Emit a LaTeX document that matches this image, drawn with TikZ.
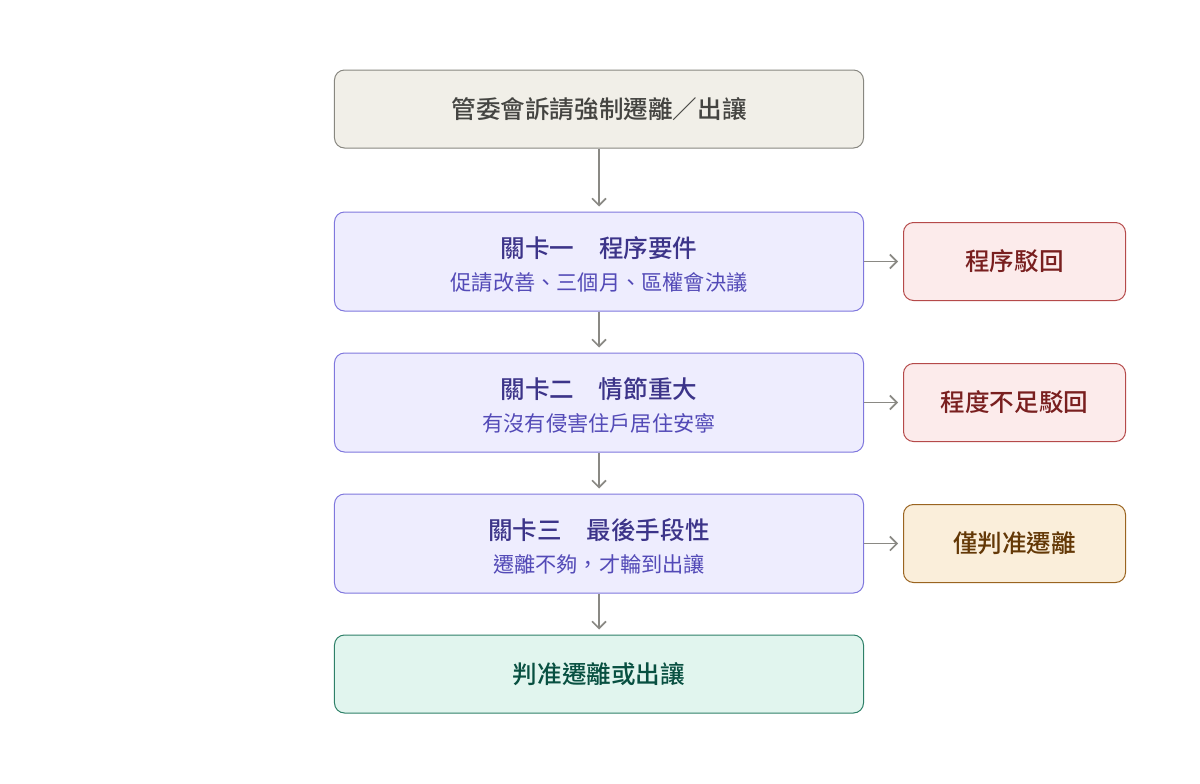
\documentclass[tikz,border=0pt]{standalone}
\usepackage{fontspec}
\setmainfont{Noto Sans CJK TC}[BoldFont={Noto Sans CJK TC Medium}]
\usetikzlibrary{matrix,arrows.meta}

\definecolor{startfill}{HTML}{F1EFE8}
\definecolor{startline}{HTML}{888780}
\definecolor{starttext}{HTML}{444441}
\definecolor{gatefill}{HTML}{EEEDFE}
\definecolor{gateline}{HTML}{7F77DD}
\definecolor{gatetext}{HTML}{3C3489}
\definecolor{gatesub}{HTML}{534AB7}
\definecolor{rejfill}{HTML}{FCEBEB}
\definecolor{rejline}{HTML}{B54A4A}
\definecolor{rejtext}{HTML}{791F1F}
\definecolor{partfill}{HTML}{FAEEDA}
\definecolor{partline}{HTML}{9A6420}
\definecolor{parttext}{HTML}{633806}
\definecolor{endfill}{HTML}{E1F5EE}
\definecolor{endline}{HTML}{2E8068}
\definecolor{endtext}{HTML}{085041}
\definecolor{arrowgray}{HTML}{8A8984}

\tikzset{
  box/.style={draw, rounded corners=10pt, line width=1pt, inner sep=0pt, align=center,
    minimum width=529pt, minimum height=78pt, font=\bfseries\fontsize{24.6}{28}\selectfont},
  startbox/.style={box, fill=startfill, draw=startline, text=starttext},
  gatebox/.style={box, minimum height=99pt, fill=gatefill, draw=gateline, text=gatetext},
  rejectbox/.style={box, minimum width=222pt, fill=rejfill, draw=rejline, text=rejtext},
  partbox/.style={box, minimum width=222pt, fill=partfill, draw=partline, text=parttext},
  endbox/.style={box, fill=endfill, draw=endline, text=endtext},
  arr/.style={draw=arrowgray, line width=1.6pt, -{Straight Barb[length=7pt,width=14pt]}, shorten >=5pt}
}
\newcommand{\gatelines}[2]{\raisebox{-6pt}[\height][\depth]{\begin{tabular}{@{}c@{}}#1\\[5pt]{\mdseries\color{gatesub}\fontsize{21.2}{25}\selectfont #2}\end{tabular}}}

\begin{document}
\begin{tikzpicture}
  \useasboundingbox (0,0) rectangle (1200pt,-784pt);
  \matrix (m) [matrix of nodes, row sep=41pt, column sep=39pt, inner sep=0pt,
    nodes={anchor=center}] at (730pt,-391.5pt)
  {
    |[startbox]| 管委會訴請強制遷離／出讓& \\[22pt]
    |[gatebox]| \gatelines{關卡一\quad 程序要件}{促請改善、三個月、區權會決議}& |[rejectbox]| 程序駁回\\
    |[gatebox]| \gatelines{關卡二\quad 情節重大}{有沒有侵害住戶居住安寧}& |[rejectbox]| 程度不足駁回\\
    |[gatebox]| \gatelines{關卡三\quad 最後手段性}{遷離不夠，才輪到出讓}& |[partbox]| 僅判准遷離\\
    |[endbox]| 判准遷離或出讓& \\ };
  \path[arr]
  (m-1-1) edge (m-2-1)
  (m-2-1) edge (m-3-1)
  edge (m-2-2)
  (m-3-1) edge (m-4-1)
  edge (m-3-2)
  (m-4-1) edge (m-5-1)
  edge (m-4-2);
\end{tikzpicture}
\end{document}
